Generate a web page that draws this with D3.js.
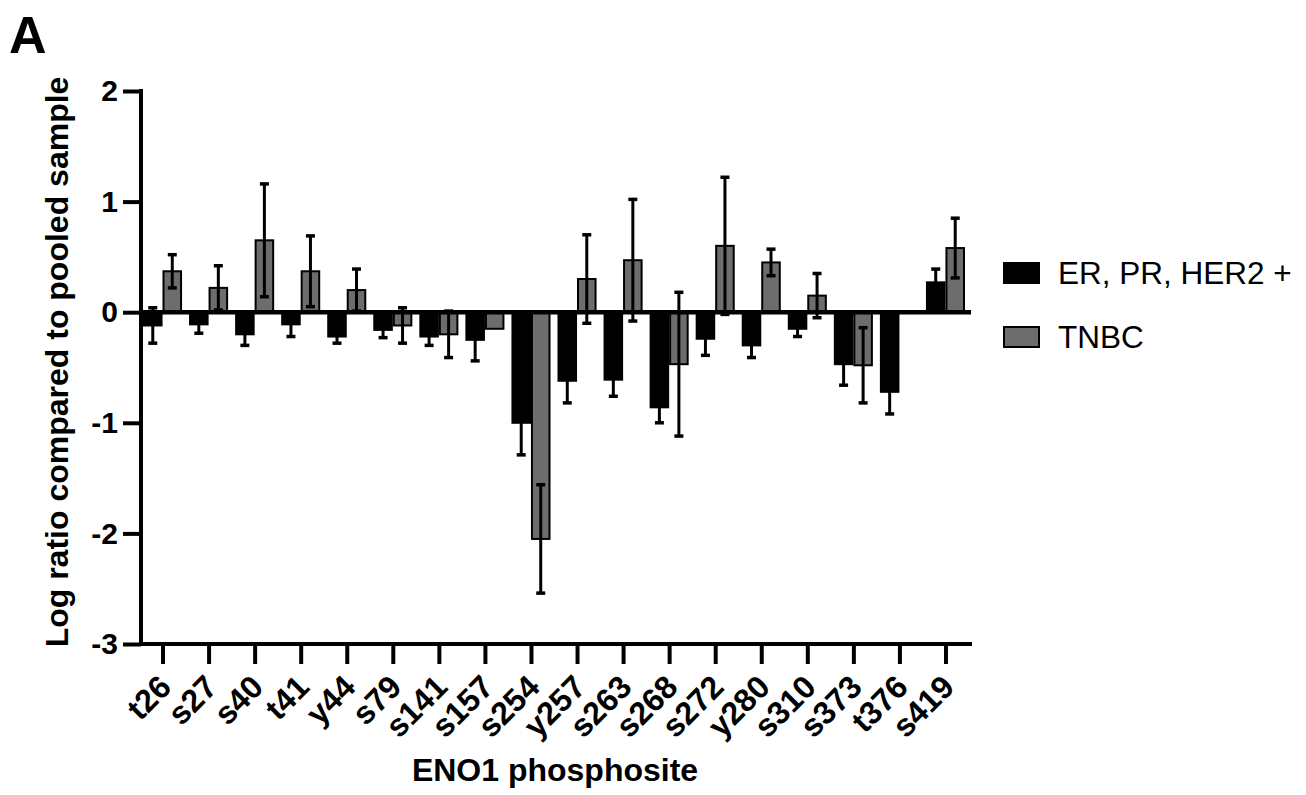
<!DOCTYPE html>
<html>
<head>
<meta charset="utf-8">
<script src="https://cdn.jsdelivr.net/npm/d3@7"></script>
<style>
  html, body { margin: 0; padding: 0; background: #fff; }
  svg { display: block; font-family: "Liberation Sans", Arial, sans-serif; }
</style>
</head>
<body>
<svg id="chart" width="1306" height="795"></svg>
<script>
const sites = ["t26","s27","s40","t41","y44","s79","s141","s157","s254","y257","s263","s268","s272","y280","s310","s373","t376","s419"];
const erMean = [-0.12,-0.11,-0.20,-0.11,-0.22,-0.16,-0.22,-0.25,-1.00,-0.62,-0.61,-0.86,-0.24,-0.30,-0.15,-0.47,-0.72,0.27];
const erErr  = [0.16,0.08,0.10,0.11,0.06,0.07,0.08,0.19,0.29,0.20,0.15,0.14,0.15,0.11,0.07,0.19,0.20,0.12];
const tnbcMean = [0.37,0.22,0.65,0.37,0.20,-0.12,-0.20,-0.15,-2.05,0.30,0.47,-0.47,0.60,0.45,0.15,-0.48,null,0.58];
const tnbcErr  = [0.15,0.20,0.51,0.32,0.19,0.16,0.21,0,0.49,0.40,0.55,0.65,0.62,0.12,0.20,0.34,null,0.27];
const seriesNames = ["ER, PR, HER2 +", "TNBC"];
const seriesColors = ["#000000", "#6d6d6d"];
const yTicks = [-3,-2,-1,0,1,2];

const svg = d3.select("#chart");
const x = d3.scaleBand().domain(sites).range([140, 969]).padding(0);
const x1 = d3.scaleBand().domain(seriesNames).range([4, x.bandwidth() - 5]).paddingInner(0.1);
const y = d3.scaleLinear().domain([-3, 2]).range([644, 91]);

const data = [];
sites.forEach((s, i) => {
  data.push({site: s, series: seriesNames[0], v: erMean[i], e: erErr[i], c: seriesColors[0]});
  if (tnbcMean[i] !== null) data.push({site: s, series: seriesNames[1], v: tnbcMean[i], e: tnbcErr[i], c: seriesColors[1]});
});

// bars
svg.append("g").selectAll("rect").data(data).join("rect")
  .attr("x", d => x(d.site) + x1(d.series))
  .attr("width", x1.bandwidth())
  .attr("y", d => Math.min(y(d.v), y(0)))
  .attr("height", d => Math.abs(y(d.v) - y(0)))
  .attr("fill", d => d.c)
  .attr("stroke", "#000")
  .attr("stroke-width", 2);

// error bars
const eb = svg.append("g").selectAll("g").data(data.filter(d => d.e > 0)).join("g");
const cx = d => x(d.site) + x1(d.series) + x1.bandwidth() / 2;
eb.append("line")
  .attr("x1", cx).attr("x2", cx)
  .attr("y1", d => y(d.v - d.e)).attr("y2", d => y(d.v + d.e))
  .attr("stroke", "#000").attr("stroke-width", 3);
[-1, 1].forEach(sgn => {
  eb.append("line")
    .attr("x1", d => cx(d) - 4.5).attr("x2", d => cx(d) + 4.5)
    .attr("y1", d => y(d.v + sgn * d.e)).attr("y2", d => y(d.v + sgn * d.e))
    .attr("stroke", "#000").attr("stroke-width", 3.5);
});

// zero line
svg.append("line")
  .attr("x1", 139).attr("x2", 971)
  .attr("y1", y(0)).attr("y2", y(0))
  .attr("stroke", "#000").attr("stroke-width", 4.5);

// y axis
const yAxis = svg.append("g").attr("transform", "translate(141,0)")
  .call(d3.axisLeft(y).tickValues(yTicks).tickSize(18).tickPadding(5).tickFormat(d3.format("d")));
yAxis.select(".domain").attr("stroke", "#000").attr("stroke-width", 4)
  .attr("d", `M0,${y(2) - 2}V${y(-3) + 2}`);
yAxis.selectAll(".tick line").attr("stroke", "#000").attr("stroke-width", 4);
yAxis.selectAll(".tick text").attr("font-size", 30).attr("font-weight", "bold").attr("fill", "#000")
  .attr("font-family", "'Liberation Sans', Arial, sans-serif").text(d => d < 0 ? "-" + Math.abs(d) : d);

// x axis
const xAxis = svg.append("g").attr("transform", `translate(0,${y(-3)})`)
  .call(d3.axisBottom(x).tickSize(20).tickSizeOuter(0));
xAxis.select(".domain").attr("stroke", "#000").attr("stroke-width", 4)
  .attr("d", `M139,0H972`);
xAxis.selectAll(".tick line").attr("stroke", "#000").attr("stroke-width", 4);
xAxis.selectAll(".tick text")
  .attr("font-size", 32).attr("font-weight", "bold").attr("fill", "#000")
  .attr("font-family", "'Liberation Sans', Arial, sans-serif")
  .attr("text-anchor", "end")
  .attr("y", 0).attr("dy", 0)
  .attr("transform", "translate(10,45) rotate(-45)");

// axis titles
svg.append("text")
  .attr("transform", "translate(68,362) rotate(-90)")
  .attr("text-anchor", "middle")
  .attr("font-size", 32).attr("font-weight", "bold")
  .text("Log ratio compared to pooled sample");
svg.append("text")
  .attr("x", 555).attr("y", 781)
  .attr("text-anchor", "middle")
  .attr("font-size", 32).attr("font-weight", "bold")
  .text("ENO1 phosphosite");

// panel letter
svg.append("text")
  .attr("x", 9).attr("y", 53)
  .attr("font-size", 52).attr("font-weight", "bold")
  .text("A");

// legend
const lg = svg.append("g").selectAll("g").data(seriesNames).join("g")
  .attr("transform", (d, i) => `translate(1004,${273 + i * 64})`);
lg.append("rect")
  .attr("x", 0).attr("y", -10).attr("width", 35).attr("height", 20)
  .attr("fill", (d, i) => seriesColors[i]).attr("stroke", "#000").attr("stroke-width", 2);
lg.append("text")
  .attr("x", 54).attr("y", 0).attr("dy", "0.36em")
  .attr("font-size", 31.5)
  .text(d => d);
</script>
</body>
</html>
